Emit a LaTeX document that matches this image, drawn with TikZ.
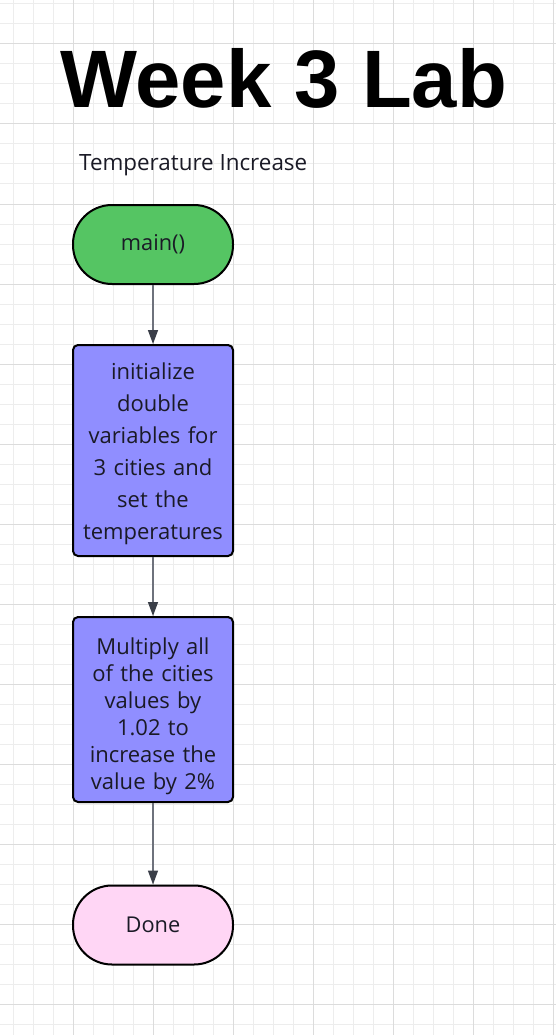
\documentclass[tikz,border=0pt]{standalone}
\usepackage{fontspec}
\setmainfont{Open Sans}
\newfontfamily\titlefont{Liberation Sans}
\usetikzlibrary{arrows.meta}
\definecolor{gridminor}{HTML}{EDEDED}
\definecolor{gridmajor}{HTML}{DCDCDC}
\definecolor{startgreen}{HTML}{55C563}
\definecolor{stepblue}{HTML}{908EFF}
\definecolor{endpink}{HTML}{FFD6F5}
\definecolor{inktext}{HTML}{1A1A26}
\definecolor{linkline}{HTML}{6E727C}
\definecolor{linktip}{HTML}{3A3E48}
\tikzset{
  terminal/.style={draw=black, line width=2pt, rounded corners=39pt,
    minimum width=160pt, minimum height=79pt, inner sep=0pt,
    text=inktext, font=\fontsize{21.8}{24}\selectfont},
  stepbox/.style={draw=black, line width=2pt, rounded corners=5pt, fill=stepblue,
    minimum width=160pt, inner sep=0pt},
  steptext/.style={inner sep=0pt, text width=154pt, align=center, text=inktext},
  link/.style={draw=linkline, line width=1.4pt,
    -{Triangle[length=14pt,width=10pt,color=linktip]}},
}
\begin{document}
\begin{tikzpicture}[x=1pt,y=-1pt]
  \useasboundingbox (0,0) rectangle (556,1035);
  \fill[white] (0,0) rectangle (556,1035);
  % background grid
  \foreach \gx in {13,33,...,553} \draw[gridminor, line width=1pt] (\gx,0) -- (\gx,1035);
  \foreach \gy in {4,24,...,1035} \draw[gridminor, line width=1pt] (0,\gy) -- (556,\gy);
  \foreach \gx in {73,153,...,553} \draw[gridmajor, line width=1pt] (\gx,0) -- (\gx,1035);
  \foreach \gy in {44,124,...,1035} \draw[gridmajor, line width=1pt] (0,\gy) -- (556,\gy);

  % headings
  \node[anchor=base west, inner sep=0pt, font=\titlefont\bfseries\fontsize{81.5}{90}\selectfont]
    (title) at (60,108) {Week 3 Lab};
  \node[anchor=base west, inner sep=0pt, text=inktext, font=\fontsize{22.4}{26}\selectfont]
    (subtitle) at (79,171) {Temperature Increase};

  % flow
  \node[terminal, fill=startgreen] (main) at (153,244.5) {main()};
  \node[stepbox, minimum height=211pt] (init) at (153,450.5) {};
  \node[steptext, font=\fontsize{22}{32}\selectfont] (inittext) at ([yshift=-3pt]init.center)
    {initialize\\double\\variables for\\3 cities and\\set the\\temperatures};
  \node[stepbox, minimum height=185pt] (scale) at (153,709.5) {};
  \node[steptext, font=\fontsize{22}{27}\selectfont] (scaletext) at ([yshift=-7pt]scale.center)
    {Multiply all\\of the cities\\values by\\1.02 to\\increase the\\value by 2\%};
  \node[terminal, fill=endpink] (done) at (153,925) {Done};

  \draw[link] (main) -- (init);
  \draw[link] (init) -- (scale);
  \draw[link] (scale) -- (done);
\end{tikzpicture}
\end{document}
